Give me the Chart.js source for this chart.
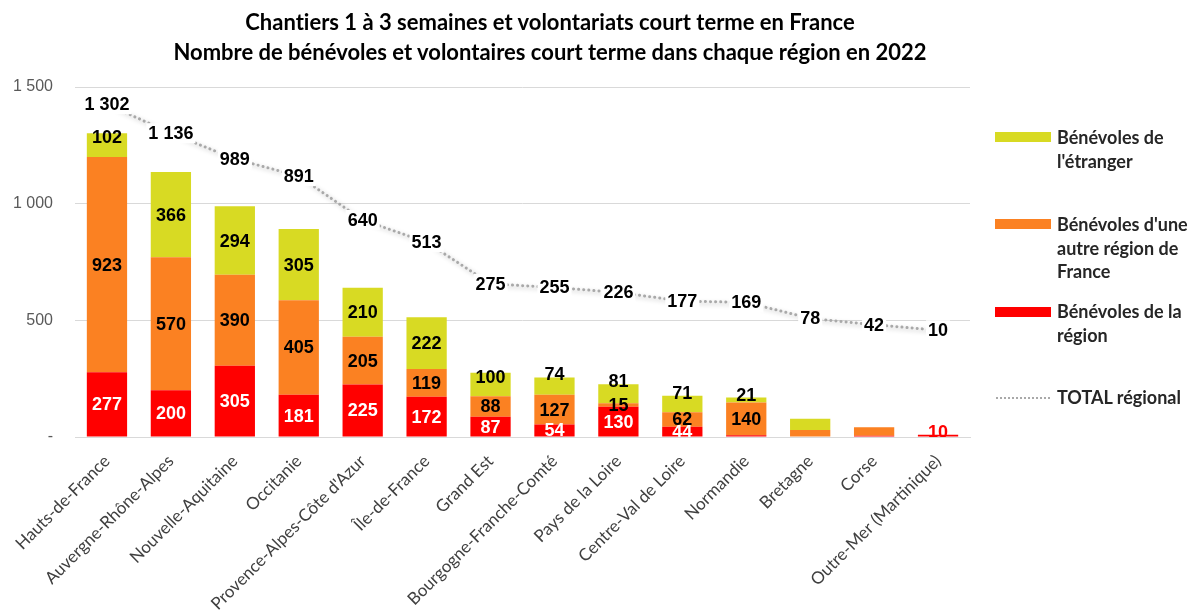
<!DOCTYPE html>
<html><head><meta charset="utf-8">
<script src="https://cdn.jsdelivr.net/npm/chart.js@4/dist/chart.umd.min.js"></script>
<style>
html,body{margin:0;padding:0;background:#fff;}
#wrap{position:relative;width:1193px;height:614px;overflow:hidden;}
canvas{position:absolute;left:0;top:0;}
.title{position:absolute;left:50px;width:1000px;text-align:center;font:bold 22px Lato,sans-serif;color:#000;line-height:30px;white-space:nowrap;font-variant-ligatures:none;}
.lg{position:absolute;font:bold 18px Lato,sans-serif;color:#262626;line-height:23.5px;white-space:nowrap;font-variant-ligatures:none;}
.sw{position:absolute;width:56px;height:10px;}
</style></head>
<body>
<div id="wrap">
<canvas id="c" width="1193" height="614"></canvas>
<div class="title" style="top:7px">Chantiers 1 à 3 semaines et volontariats court terme en France</div>
<div class="title" style="top:37px">Nombre de bénévoles et volontaires court terme dans chaque région en 2022</div>
<div id="legend"></div>
</div>
<script>
const categories = ["Hauts-de-France","Auvergne-Rhône-Alpes","Nouvelle-Aquitaine","Occitanie","Provence-Alpes-Côte d'Azur","Île-de-France","Grand Est","Bourgogne-Franche-Comté","Pays de la Loire","Centre-Val de Loire","Normandie","Bretagne","Corse","Outre-Mer (Martinique)"];
const beneRegion   = [277,200,305,181,225,172,87,54,130,44,8,0,5,10];
const beneAutre    = [923,570,390,405,205,119,88,127,15,62,140,30,37,0];
const beneEtranger = [102,366,294,305,210,222,100,74,81,71,21,48,0,0];
const totalRegional= [1302,1136,989,891,640,513,275,255,226,177,169,78,42,10];
const seriesNames = ["Bénévoles de la région","Bénévoles d'une autre région de France","Bénévoles de l'étranger","TOTAL régional"];
const yTicks = [0,500,1000,1500];
const noLabelCats = ["Bretagne","Corse"];

const COL_RED = '#FF0000', COL_OR = '#FB8122', COL_YE = '#D8DA23', COL_LINE = '#A9A9A9';

function fmt(v){ return String(v).replace(/\B(?=(\d{3})+(?!\d))/g,' '); }

// HTML legend
const legendItems = [
  {type:'box', color:COL_YE, rectTop:132, textTop:126, html:' Bénévoles de<br>l\'étranger'},
  {type:'box', color:COL_OR, rectTop:219, textTop:213, html:' Bénévoles d\'une<br>autre région de<br>France'},
  {type:'box', color:COL_RED, rectTop:307, textTop:300, html:' Bénévoles de la<br>région'},
  {type:'line', color:COL_LINE, rectTop:397, textTop:386, html:'TOTAL régional'}
];
const lg = document.getElementById('legend');
legendItems.forEach(it=>{
  const s = document.createElement('div');
  if(it.type==='box'){ s.className='sw'; s.style.left='995px'; s.style.top=it.rectTop+'px'; s.style.background=it.color; }
  else { s.style.cssText='position:absolute;left:996px;width:54px;top:'+it.rectTop+'px;border-top:2px dotted '+it.color+';'; }
  lg.appendChild(s);
  const t = document.createElement('div');
  t.className='lg'; t.style.left='1057px'; t.style.top=it.textTop+'px'; t.innerHTML=it.html;
  lg.appendChild(t);
});

const labelPlugin = {
  id:'valueLabels',
  beforeDatasetDraw(chart,args){
    if(args.index===3){ const c=chart.ctx; c.save(); c.shadowColor='rgba(0,0,0,0.25)'; c.shadowBlur=4; c.shadowOffsetX=2; c.shadowOffsetY=2; }
  },
  afterDatasetDraw(chart,args){ if(args.index===3){ chart.ctx.restore(); } },
  afterDatasetsDraw(chart){
    const ctx = chart.ctx, area = chart.chartArea;
    ctx.save();
    ctx.font = 'bold 18px "Liberation Sans", Arial, sans-serif';
    ctx.textAlign='center'; ctx.textBaseline='middle';
    for(let di=0; di<3; di++){
      const meta = chart.getDatasetMeta(di);
      const data = chart.data.datasets[di].data;
      meta.data.forEach((bar,i)=>{
        const v = data[i];
        if(!v || v<10 || noLabelCats.includes(categories[i])) return;
        const top = Math.min(bar.y, bar.base), bot = Math.max(bar.y, bar.base);
        const h = bot-top;
        let y = (top+bot)/2;
        if(di===2 && h<26) y = h>=20 ? top+4 : top-3;
        y = Math.min(y, area.bottom-5);
        let color = di===0 ? '#FFFFFF' : '#000000';
        if(di===0 && h<5) color = COL_RED;
        ctx.save();
        ctx.beginPath(); ctx.rect(area.left, area.top-40, area.right-area.left, area.bottom-area.top+40); ctx.clip();
        ctx.fillStyle=color; ctx.fillText(fmt(v), bar.x, y+1);
        ctx.restore();
      });
    }
    const lm = chart.getDatasetMeta(3);
    lm.data.forEach((pt,i)=>{
      const txt = fmt(totalRegional[i]);
      const w = ctx.measureText(txt).width;
      ctx.fillStyle='#FFFFFF';
      ctx.fillRect(pt.x-w/2-2, pt.y-10, w+4, 20);
      ctx.fillStyle='#000000';
      ctx.fillText(txt, pt.x, pt.y+1);
    });
    ctx.restore();
  }
};

new Chart(document.getElementById('c'), {
  data:{
    labels: categories,
    datasets:[
      {type:'bar', label:seriesNames[0], data:beneRegion, backgroundColor:COL_RED, stack:'s', yAxisID:'y', barPercentage:0.63, categoryPercentage:1},
      {type:'bar', label:seriesNames[1], data:beneAutre, backgroundColor:COL_OR, stack:'s', yAxisID:'y', barPercentage:0.63, categoryPercentage:1},
      {type:'bar', label:seriesNames[2], data:beneEtranger, backgroundColor:COL_YE, stack:'s', yAxisID:'y', barPercentage:0.63, categoryPercentage:1},
      {type:'line', label:seriesNames[3], data:totalRegional, yAxisID:'y2', borderColor:COL_LINE, borderWidth:3, borderDash:[0.1,5], borderCapStyle:'round', pointRadius:0, fill:false, tension:0, order:-1}
    ]
  },
  options:{
    responsive:false, animation:false,
    layout:{padding:{left:0,right:223,top:87,bottom:0}},
    plugins:{legend:{display:false}, title:{display:false}, tooltip:{enabled:false}},
    scales:{
      x:{
        stacked:true, offset:true,
        grid:{display:false},
        border:{display:true,color:'#D9D9D9'},
        ticks:{autoSkip:false, maxRotation:45, minRotation:45, padding:6, color:'#404040', font:{family:'Lato', size:17}},
        afterFit(s){ s.height = 177; }
      },
      y:{
        stacked:true, min:0, max:1500,
        afterBuildTicks(s){ s.ticks = yTicks.map(v=>({value:v})); },
        grid:{color:'#D9D9D9', lineWidth:1, drawTicks:false},
        border:{display:false},
        ticks:{padding:22, color:'#595959', font:{family:'"Liberation Sans"', size:16}, callback:v=> v===0 ? '-' : fmt(v)},
        afterFit(s){ s.width = 75; }
      },
      y2:{ display:false, min:-600, max:1400 }
    }
  },
  plugins:[labelPlugin]
});
</script>
</body></html>
